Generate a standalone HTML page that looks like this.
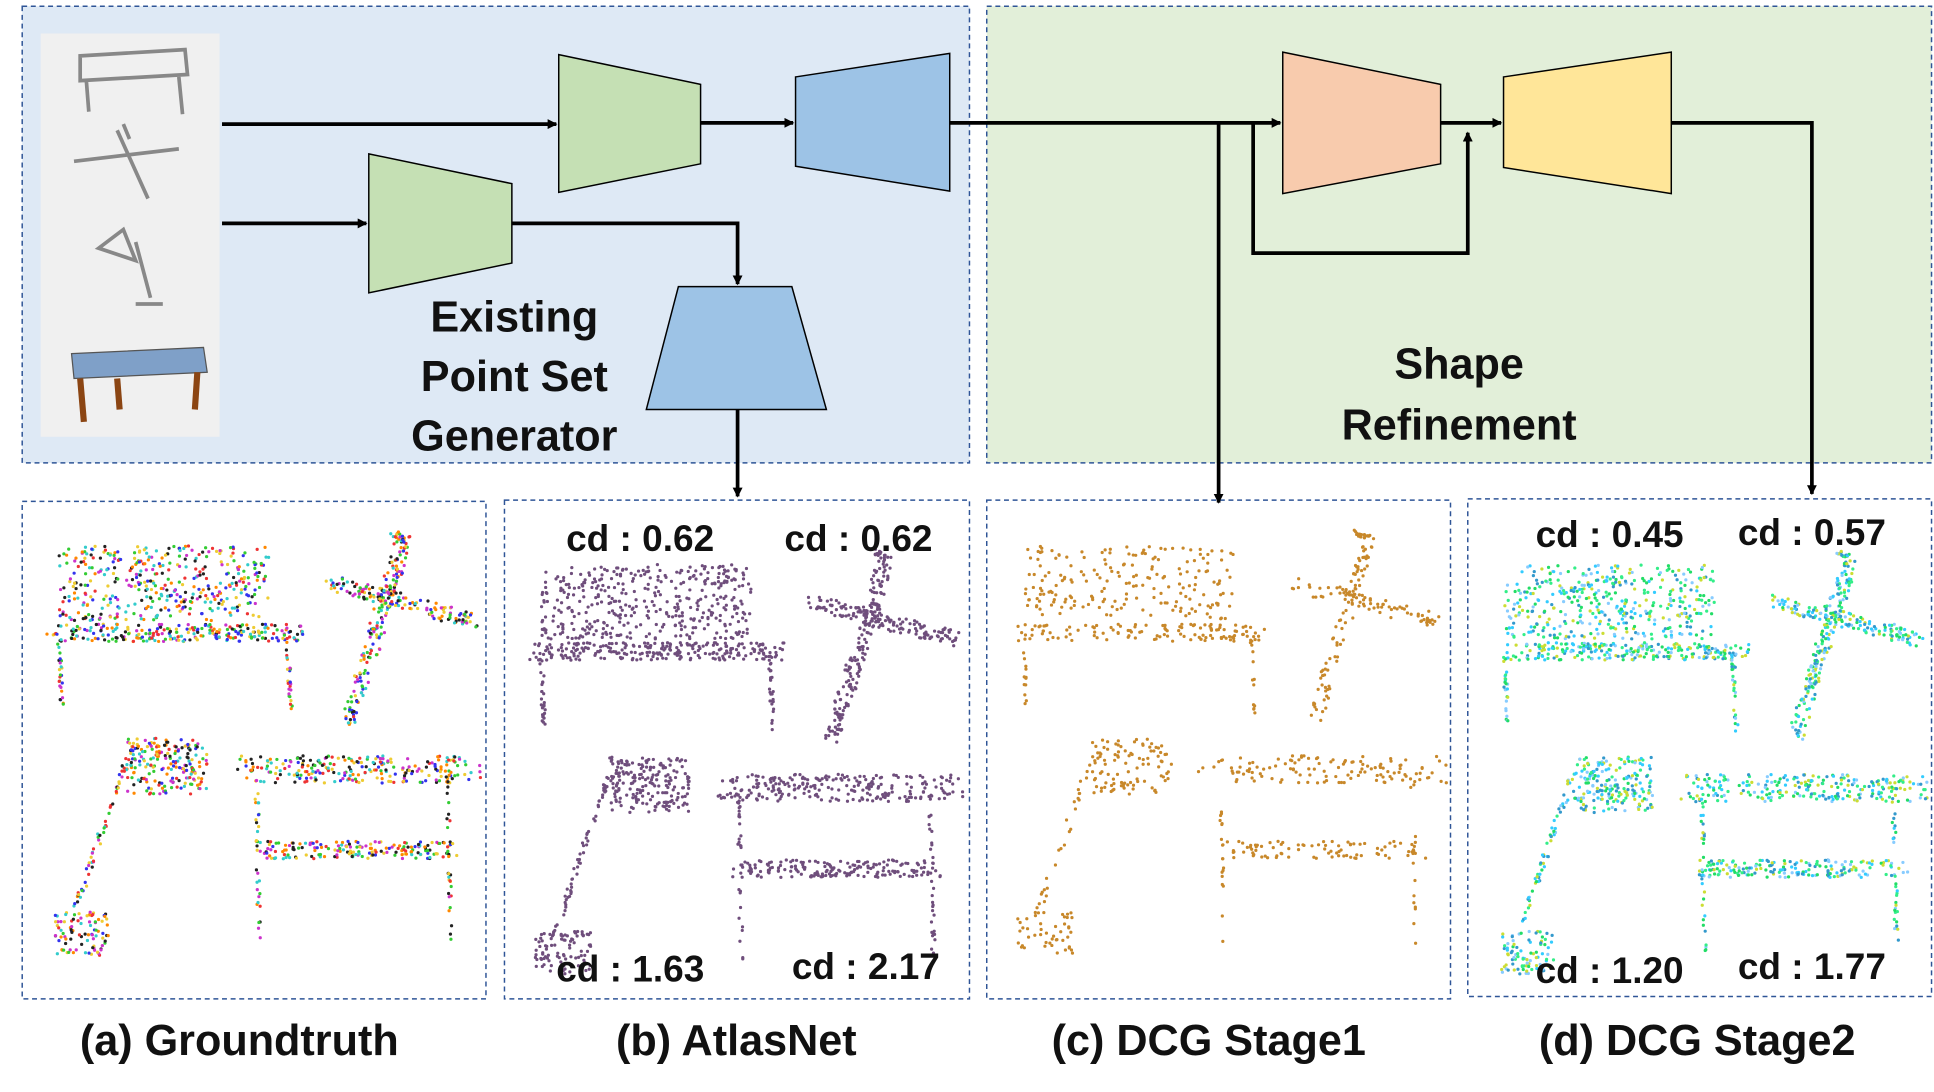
<!DOCTYPE html>
<html><head><meta charset="utf-8"><style>
html,body{margin:0;padding:0;background:#fff;width:1934px;height:1092px;overflow:hidden}
svg{display:block}
text{font-family:"Liberation Sans",sans-serif;fill:#111}
</style></head><body>
<svg id="s" width="1934" height="1092" viewBox="0 0 1568 880" preserveAspectRatio="none">
<defs><marker id="a" markerWidth="8" markerHeight="8" refX="7" refY="4" orient="auto" markerUnits="userSpaceOnUse"><path d="M0,0 L8,4 L0,8z" fill="#000"/></marker></defs>
<g stroke="#2f5597" stroke-dasharray="4,3" stroke-width="1.2">
<rect x="18" y="5" width="768" height="368" fill="#dee9f5"/>
<rect x="800" y="5" width="766" height="368" fill="#e2efd9"/>
<rect x="18" y="404" width="376" height="401" fill="#fff"/>
<rect x="409" y="403" width="377" height="402" fill="#fff"/>
<rect x="800" y="403" width="376" height="402" fill="#fff"/>
<rect x="1190" y="402" width="376" height="401" fill="#fff"/>
</g>
<rect x="33" y="27" width="145" height="325" fill="#f0f0f0"/>
<g stroke="#888" stroke-width="3" fill="none"><path d="M65,45 L150,40 L152,60 L65,65z M70,65 L72,90 M145,62 L148,92"/>
<path d="M60,130 L145,120 M95,105 L120,160 M100,100 L105,112"/>
<path d="M80,200 L100,185 L110,210z M110,195 L122,240 M110,245 L132,245"/></g>
<path d="M58,285 L165,280 L168,300 L60,305z" fill="#7fa0c8" stroke="#555"/>
<path d="M65,305 L68,340 M160,300 L158,330 M95,305 L97,330" stroke="#8b4513" stroke-width="5"/>
<g stroke="#000" stroke-width="1.2">
<polygon points="453,44 568,68 568,132 453,155" fill="#c5e0b4"/>
<polygon points="645,62 770,43 770,154 645,134" fill="#9dc3e6"/>
<polygon points="299,124 415,148 415,212 299,236" fill="#c5e0b4"/>
<polygon points="550,231 642,231 670,330 524,330" fill="#9dc3e6"/>
<polygon points="1040,42 1168,68 1168,132 1040,156" fill="#f8cbad"/>
<polygon points="1219,62 1355,42 1355,156 1219,135" fill="#ffe699"/>
</g>
<g stroke="#000" stroke-width="3" fill="none" marker-end="url(#a)">
<path d="M180,100 L451,100"/><path d="M568,99 L643,99"/><path d="M770,99 L1038,99"/>
<path d="M180,180 L297,180"/><path d="M415,180 L598,180 L598,229"/>
<path d="M598,330 L598,400"/><path d="M988,99 L988,405"/>
<path d="M1016,99 L1016,204 L1190,204 L1190,107"/><path d="M1168,99 L1217,99"/>
<path d="M1355,99 L1469,99 L1469,398"/>
</g>
<g id="pts"></g>
<g font-size="35" text-anchor="middle" font-weight="bold">
<text x="417" y="267">Existing</text><text x="417" y="315">Point Set</text><text x="417" y="363">Generator</text>
<text x="1183" y="305">Shape</text><text x="1183" y="354">Refinement</text>
<text x="194" y="850">(a) Groundtruth</text><text x="597" y="850">(b) AtlasNet</text>
<text x="980" y="850">(c) DCG Stage1</text><text x="1376" y="850">(d) DCG Stage2</text>
</g>
<g font-size="30" font-weight="bold" text-anchor="middle">
<text x="519" y="444">cd : 0.62</text><text x="696" y="444">cd : 0.62</text>
<text x="511" y="791">cd : 1.63</text><text x="702" y="789">cd : 2.17</text>
<text x="1305" y="441">cd : 0.45</text><text x="1469" y="439">cd : 0.57</text>
<text x="1305" y="792">cd : 1.20</text><text x="1469" y="789">cd : 1.77</text>
</g>
</svg>
<script>
var g=document.getElementById('pts'),h='';
var seed=1;function r(){seed=(seed*16807)%2147483647;return seed/2147483647;}
var rainbow=['#e33','#3c3','#33e','#ec3','#c3c','#3cc','#222','#f80'];
function col(t){if(t=='r')return rainbow[Math.floor(r()*8)];if(t=='g')return ['#3cf','#3e8','#8cf','#cd3','#39c','#2d6'][Math.floor(r()*6)];return t;}
function area(x,y,w,hh,n,c){for(var i=0;i<n;i++)h+='<circle cx="'+(x+r()*w).toFixed(1)+'" cy="'+(y+r()*hh).toFixed(1)+'" r="1.3" fill="'+col(c)+'"/>';}
function line(x1,y1,x2,y2,n,w,c){for(var i=0;i<n;i++){var t=r();h+='<circle cx="'+(x1+(x2-x1)*t+(r()-.5)*w).toFixed(1)+'" cy="'+(y1+(y2-y1)*t+(r()-.5)*w).toFixed(1)+'" r="1.3" fill="'+col(c)+'"/>';}}
function set(ox,oy,c,n){
 area(ox+30,oy+40,170,60,400*n,c);line(ox+25,oy+110,ox+225,oy+110,250*n,14,c);
 line(ox+30,oy+115,ox+32,oy+170,25*n,3,c);line(ox+215,oy+115,ox+218,oy+175,25*n,3,c);
 line(ox+310,oy+35,ox+265,oy+180,180*n,12,c);line(ox+250,oy+70,ox+365,oy+100,150*n,12,c);line(ox+310,oy+35,ox+300,oy+30,15,6,c);
 area(ox+85,oy+195,65,45,200*n,c);line(ox+85,oy+210,ox+40,oy+340,60*n,5,c);area(ox+25,oy+335,45,35,90*n,c);
 line(ox+180,oy+220,ox+365,oy+220,250*n,22,c);line(ox+190,oy+285,ox+350,oy+285,180*n,14,c);
 line(ox+190,oy+225,ox+192,oy+360,30*n,3,c);line(ox+345,oy+225,ox+348,oy+360,30*n,3,c);}
set(18,400,'r',1);set(409,415,'#6f4e7c',1);set(800,400,'#c8882a',0.5);set(1190,415,'g',1);
g.innerHTML=h;
</script>
</body></html>
